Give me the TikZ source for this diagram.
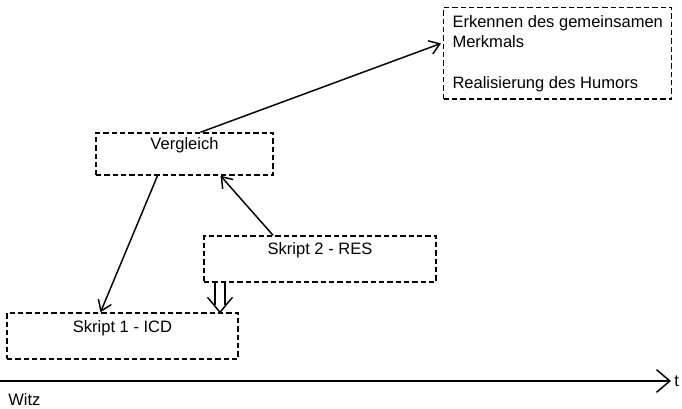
\documentclass[tikz,border=0pt]{standalone}
\usepackage{fontspec}
\setmainfont{Liberation Sans}
\usetikzlibrary{calc,arrows.meta}

\tikzset{
	box/.style={draw, line width=1.1pt, dash pattern=on 4pt off 2.25pt, inner xsep=0pt, inner ysep=0pt},
	arr/.style={line width=1.1pt, -{Straight Barb[length=7.5pt,width=10.5pt]}},
	txt/.style={font=\fontsize{12.4}{15.5}\selectfont}
}

\begin{document}
\begin{tikzpicture}[x=0.75pt, y=-0.75pt, txt]
	\useasboundingbox (0,0) rectangle (682,409);
	% boxes
	\node[box, anchor=north west, minimum width=171pt, minimum height=67.5pt, inner xsep=6pt, inner ysep=5.5pt, align=left] (merk) at (443,7) {Erkennen des gemeinsamen\\ Merkmals\\[15pt] Realisierung des Humors};
	\node[box, minimum width=132.75pt, text height=12.4pt, text depth=19.1pt] (vgl) at (184.5,154) {Vergleich};
	\node[box, minimum width=174pt, text height=13.9pt, text depth=20.6pt] (sk2) at (320,259) {Skript 2 - RES};
	\node[box, minimum width=173.25pt, text height=15pt, text depth=19.5pt] (sk1) at (122.5,336) {Skript 1 - ICD};
	% arrows
	\draw[arr] ($(vgl.north)+(16,0)$) -- ($(merk.west)+(-2,-10)$);
	\draw[arr] ($(vgl.south)+(-27,0)$) -- ($(sk1.north)+(-22,0)$);
	\draw[arr] ($(sk2.north)+(-47,0)$) -- ($(vgl.south)+(36,0)$);
	% double arrow
	\coordinate (dtop) at ($(sk2.south)+(-100,0)$);
	\coordinate (dtip) at ($(sk1.north)+(97.5,0)$);
	\draw[line width=1.1pt] ($(dtop)+(-5,0)$) -- ($(dtip)+(-5,-7)$);
	\draw[line width=1.1pt] ($(dtop)+(5,0)$) -- ($(dtip)+(5,-7)$);
	\draw[line width=1.1pt] ($(dtip)+(-12.5,-15)$) -- (dtip) -- ($(dtip)+(12.5,-15)$);
	% time axis
	\coordinate (t0) at (0,381);
	\node[anchor=west, inner sep=0pt] (t) at (674,381) {t};
	\draw[line width=1.1pt, -{Straight Barb[length=10pt,width=17pt]}] (t0) -- ($(t.west)+(-3,0)$);
	\node[anchor=base west, inner sep=0pt] (witz) at (8,406) {Witz};
\end{tikzpicture}
\end{document}
